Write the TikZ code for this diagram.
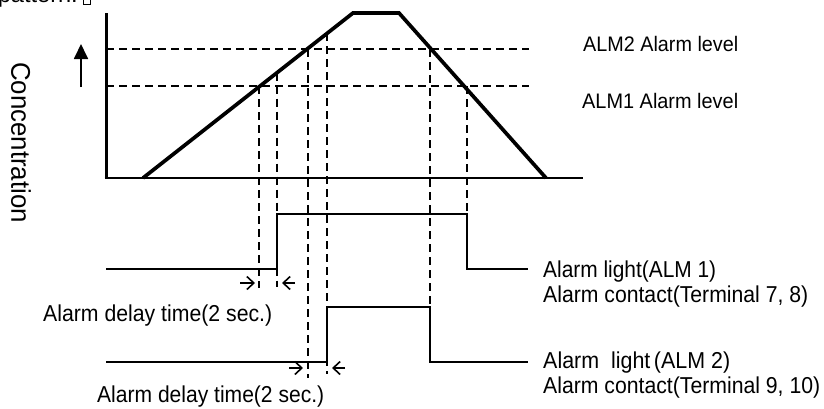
\documentclass[tikz,border=0pt]{standalone}
\usepackage{fontspec}
\usepackage{graphicx}
\setmainfont{Liberation Sans}
\usetikzlibrary{arrows.meta,calc}
\newcommand{\fitw}[2]{\resizebox{#1}{\height}{#2}}
\begin{document}
\begin{tikzpicture}[x=1pt,y=-1pt,
  lbl/.style={inner sep=0pt,anchor=base west,font=\fontsize{23}{27}\selectfont},
  lvl/.style={inner sep=0pt,anchor=base west,font=\fontsize{21}{24}\selectfont},
  dsh/.style={line width=1.8pt,dash pattern=on 8pt off 5pt},
  sig/.style={line width=2.2pt,line join=miter},
  dly/.style={line width=1.6pt,-{Straight Barb[length=7pt,width=13pt,line width=1.6pt]}},
]
\useasboundingbox (0,0) rectangle (824,408);
% cut-off text at the top
\node[lbl,anchor=base east] (toptxt) at (78,2.8) {\fitw{80pt}{pattern.}};
\draw[line width=0.8pt] (83,-2) rectangle (90,4.5);
% axis label
\node[rotate=-90,inner sep=0pt,font=\fontsize{27}{30}\selectfont] (conc) at (21,142.5) {\fitw{161pt}{Concentration}};
\coordinate (arB) at (81,87);
\coordinate (arT) at (81,44);
\draw[line width=1.8pt,-{Triangle[length=15pt,width=14pt]}] (arB) -- (arT);
% level lines
\draw[dsh] (106,49) -- (529,49);
\draw[dsh] (106,86) -- (529,86);
% vertical dashed
\draw[dsh] (259,86) -- (259,288);
\draw[dsh] (277,72.7) -- (277,287);
\draw[dsh] (308,49) -- (308,378);
\draw[dsh] (327,33.4) -- (327,374);
\draw[dsh] (430,49) -- (430,307);
\draw[dsh] (467,86) -- (467,214);
% axes
\draw[line width=3pt] (106,13) -- (106,178);
\draw[line width=2.7pt] (104.5,178) -- (583,178);
% concentration curve
\draw[line width=3.7pt,line join=miter] (143,178) -- (353,13) -- (399,13) -- (546,178);
% signals
\draw[sig] (106,269) -- (277,269) -- (277,214) -- (467,214) -- (467,269) -- (528,269);
\draw[sig] (106,362) -- (327,362) -- (327,307) -- (430,307) -- (430,362) -- (528,362);
% delay arrows
\draw[dly] (240,283) -- (255,283);
\draw[dly] (295,283) -- (282,283);
\draw[dly] (289,368) -- (303,368);
\draw[dly] (345,368) -- (332,368);
% labels
\node[lvl] (alm2) at (583,51.5) {\fitw{155pt}{ALM2 Alarm level}};
\node[lvl] (alm1) at (582,108) {\fitw{156pt}{ALM1 Alarm level}};
\node[lbl] (l1a) at (543,277) {\fitw{173pt}{Alarm light(ALM 1)}};
\node[lbl] (l1b) at (543,302) {\fitw{265pt}{Alarm contact(Terminal 7, 8)}};
\node[lbl] (d1) at (43,321) {\fitw{229pt}{Alarm delay time(2 sec.)}};
\node[lbl] (l2a) at (543,368) {\fitw{187pt}{Alarm\ \ light\,(ALM 2)}};
\node[lbl] (l2b) at (543,393) {\fitw{277pt}{Alarm contact(Terminal 9, 10)}};
\node[lbl] (d2) at (97,402) {\fitw{227pt}{Alarm delay time(2 sec.)}};
\end{tikzpicture}
\end{document}
